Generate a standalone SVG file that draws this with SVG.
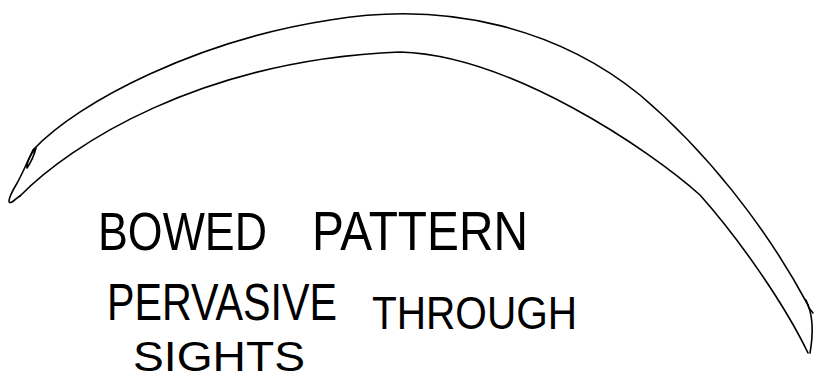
<svg xmlns="http://www.w3.org/2000/svg" width="817" height="381" viewBox="0 0 817 381">
<style>
.ln{fill:none;stroke:#000;stroke-width:1.6;stroke-linecap:round;stroke-linejoin:round}
.tx{font-family:"Liberation Sans","DejaVu Sans",sans-serif;fill:#000;font-weight:normal}
</style>
<rect width="817" height="381" fill="#fff"/>
<g id="bow">
<path class="ln" d="M33,150 C80,100 200,40 330,20 C450,0 560,30 640,95 C705,150 765,225 808,305"/>
<path class="ln" d="M20,196 C70,145 200,60 400,52 C510,55 650,150 700,195 C740,240 785,305 808,353"/>
<path class="ln" d="M33,150 C28,160 22,175 16,185 C10,195 6,205 12,202 C15,200 18,197 20,196"/>
<path class="ln" d="M36,148 C30,155 26,164 27,168 C31,162 34,156 36,148"/>
<path class="ln" d="M808,305 C812,315 814,330 810,353"/>
<path class="ln" d="M806,300 L809,308 L813,313"/>
</g>
<g id="label">
<text class="tx" x="98" y="250" font-size="54" textLength="169" lengthAdjust="spacingAndGlyphs">BOWED</text>
<text class="tx" x="312" y="250" font-size="56" textLength="216" lengthAdjust="spacingAndGlyphs">PATTERN</text>
<text class="tx" x="107" y="320" font-size="52" textLength="230" lengthAdjust="spacingAndGlyphs">PERVASIVE</text>
<text class="tx" x="372" y="329" font-size="47" textLength="205" lengthAdjust="spacingAndGlyphs">THROUGH</text>
<text class="tx" x="133" y="371" font-size="42" textLength="172" lengthAdjust="spacingAndGlyphs">SIGHTS</text>
</g>
</svg>
